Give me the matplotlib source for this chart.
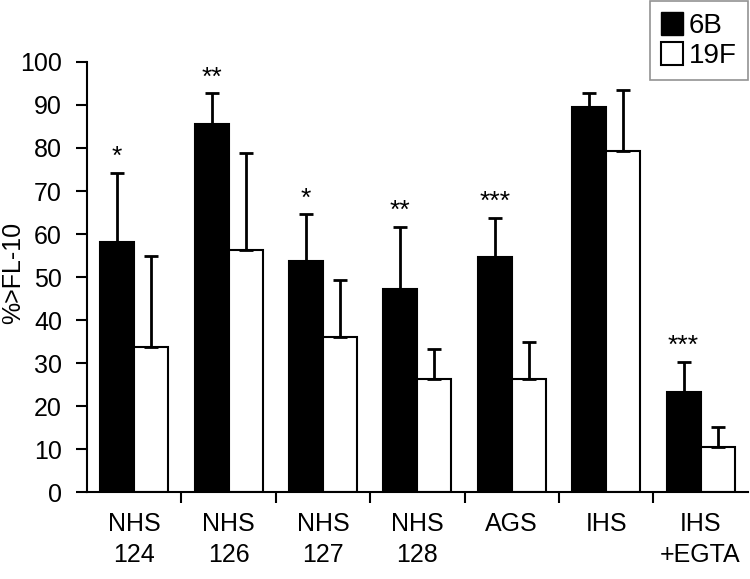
import numpy as np
import matplotlib
matplotlib.use("Agg")
import matplotlib.pyplot as plt
from matplotlib.patches import Patch

plt.rcParams['font.family'] = ['Liberation Sans', 'DejaVu Sans']

# data
groups = ["NHS\n124", "NHS\n126", "NHS\n127", "NHS\n128", "AGS", "IHS", "IHS\n+EGTA"]
vals_6b = [58.2, 85.5, 53.8, 47.2, 54.6, 89.6, 23.2]
err_6b = [16.1, 7.3, 10.8, 14.5, 9.2, 3.1, 7.1]
vals_19f = [33.8, 56.4, 36.0, 26.2, 26.2, 79.3, 10.4]
err_19f = [21.1, 22.4, 13.2, 7.1, 8.7, 14.2, 4.7]
stars = ["*", "**", "*", "**", "***", "", "***"]

fig = plt.figure(figsize=(7.5, 5.79), dpi=100)
ax = fig.add_axes([0.116, 0.150, 0.881, 0.743])

x = np.arange(len(groups))
w = 0.36
ax.bar(x - w / 2, vals_6b, w, color='black', edgecolor='black', linewidth=1.5,
       yerr=[np.zeros(len(err_6b)), err_6b],
       error_kw=dict(ecolor='black', elinewidth=2, capsize=5, capthick=2))
ax.bar(x + w / 2, vals_19f, w, color='white', edgecolor='black', linewidth=1.5,
       yerr=[np.zeros(len(err_19f)), err_19f],
       error_kw=dict(ecolor='black', elinewidth=2, capsize=5, capthick=2))

for i, s in enumerate(stars):
    if s:
        ax.text(x[i] - w / 2, vals_6b[i] + err_6b[i] + 0.8, s, ha='center', va='bottom',
                fontsize=19)

ax.set_xlim(-0.5, len(groups) - 0.5)
ax.set_ylim(0, 100)
ax.set_yticks(np.arange(0, 101, 10))
ax.set_ylabel("%>FL-10", fontsize=18)
ax.yaxis.set_label_coords(-0.094, 0.51)

# ticks between groups, labels centered under each group
ax.set_xticks(np.arange(0.5, len(groups) - 0.5, 1))
ax.set_xticklabels([])
ax.set_xticks(x, minor=True)
ax.set_xticklabels(groups, minor=True, fontsize=18, linespacing=1.4)
ax.tick_params(axis='x', which='major', direction='out', length=8, width=1.5)
ax.tick_params(axis='x', which='minor', length=0, pad=14)
ax.tick_params(axis='y', direction='out', length=8, width=1.5, labelsize=18, pad=10)

for side in ['top', 'right']:
    ax.spines[side].set_visible(False)
for side in ['left', 'bottom']:
    ax.spines[side].set_linewidth(1.5)

handles = [Patch(facecolor='black', edgecolor='black', label='6B'),
           Patch(facecolor='white', edgecolor='black', linewidth=1.5, label='19F')]
leg = fig.legend(handles=handles, loc='upper right', bbox_to_anchor=(0.997, 0.999),
                 borderaxespad=0, fontsize=20, frameon=True, fancybox=False,
                 handlelength=0.8, handleheight=0.9, handletextpad=0.2,
                 borderpad=0.4, labelspacing=0.1)
leg.get_frame().set_edgecolor('#777777')
leg.get_frame().set_linewidth(1.2)

fig.savefig("out.png", dpi=100)
